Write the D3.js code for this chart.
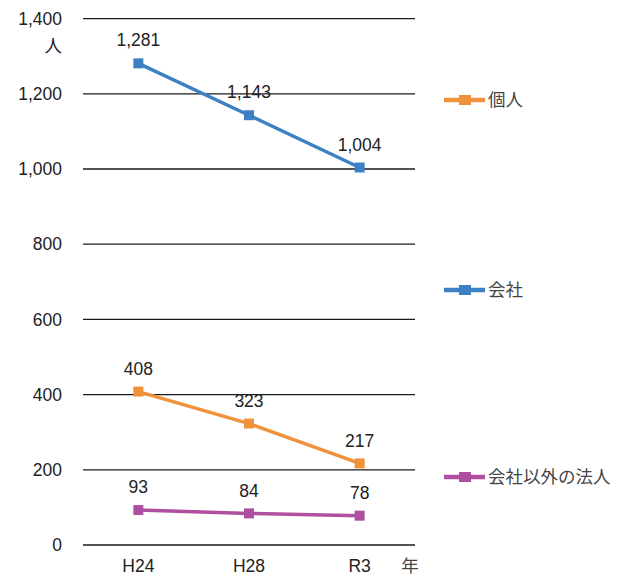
<!DOCTYPE html>
<html>
<head>
<meta charset="utf-8">
<script src="https://cdn.jsdelivr.net/npm/d3@7"></script>
<style>
  html, body { margin: 0; padding: 0; background: #fff; }
  svg { display: block; font-family: "Liberation Sans", Arial, "Noto Sans CJK JP", sans-serif; }
</style>
</head>
<body>
<svg id="chart" width="633" height="580"></svg>
<script>
// Number of persons by organisation type, per survey year
const years = ["H24", "H28", "R3"];
const seriesNames = ["個人", "会社", "会社以外の法人"];
const kojin = [408, 323, 217];
const kaisha = [1281, 1143, 1004];
const hojin = [93, 84, 78];
const yTicks = [0, 200, 400, 600, 800, 1000, 1200, 1400];
const colors = ["#F0923B", "#3E80C4", "#AE4FA0"];

const series = [
  { name: seriesNames[0], values: kojin, color: colors[0], legendY: 100 },
  { name: seriesNames[1], values: kaisha, color: colors[1], legendY: 290 },
  { name: seriesNames[2], values: hojin, color: colors[2], legendY: 477 }
];

const svg = d3.select("#chart");
const plotLeft = 83, plotRight = 415, plotTop = 18.6, plotBottom = 545;
const fontSize = 17.5;

const x = d3.scaleBand().domain(years).range([plotLeft, plotRight]);
const y = d3.scaleLinear().domain([0, 1400]).range([plotBottom, plotTop]);
const fmt = d3.format(",");

// Horizontal gridlines
svg.append("g").selectAll("line").data(yTicks).join("line")
  .attr("x1", plotLeft).attr("x2", plotRight)
  .attr("y1", d => y(d)).attr("y2", d => y(d))
  .attr("stroke", "#1a1a1a").attr("stroke-width", 1.3);

// Y axis tick labels
svg.append("g").selectAll("text").data(yTicks).join("text")
  .attr("x", 62).attr("y", d => y(d)).attr("dy", "0.35em")
  .attr("text-anchor", "end").attr("font-size", fontSize).attr("fill", "#222")
  .text(d => fmt(d));

// Unit labels
svg.append("text").attr("x", 62).attr("y", 46).attr("dy", "0.35em")
  .attr("text-anchor", "end").attr("font-size", fontSize).attr("fill", "#222").text("人");
svg.append("text").attr("x", 410).attr("y", 566).attr("dy", "0.35em")
  .attr("text-anchor", "middle").attr("font-size", fontSize).attr("fill", "#444").text("年");

// Category labels
svg.append("g").selectAll("text").data(years).join("text")
  .attr("x", d => x(d) + x.bandwidth() / 2).attr("y", 566).attr("dy", "0.35em")
  .attr("text-anchor", "middle").attr("font-size", fontSize).attr("fill", "#222")
  .text(d => d);

const cx = d => x(d) + x.bandwidth() / 2;
const line = d3.line().x((d, i) => cx(years[i])).y(d => y(d));

series.forEach(s => {
  const g = svg.append("g");
  g.append("path").datum(s.values)
    .attr("d", line).attr("fill", "none")
    .attr("stroke", s.color).attr("stroke-width", 3.5);
  g.selectAll("rect").data(s.values).join("rect")
    .attr("x", (d, i) => cx(years[i]) - 5).attr("y", d => y(d) - 5)
    .attr("width", 10).attr("height", 10).attr("fill", s.color);
  g.selectAll("text").data(s.values).join("text")
    .attr("x", (d, i) => cx(years[i])).attr("y", d => y(d) - 23).attr("dy", "0.35em")
    .attr("text-anchor", "middle").attr("font-size", fontSize).attr("fill", "#222")
    .text(d => fmt(d));

  // Legend entry
  const lg = svg.append("g");
  lg.append("line").attr("x1", 444).attr("x2", 485)
    .attr("y1", s.legendY).attr("y2", s.legendY)
    .attr("stroke", s.color).attr("stroke-width", 4.5);
  lg.append("rect").attr("x", 459).attr("y", s.legendY - 5)
    .attr("width", 12).attr("height", 10).attr("fill", s.color);
  lg.append("text").attr("x", 488).attr("y", s.legendY).attr("dy", "0.35em")
    .attr("font-size", fontSize).attr("fill", "#444").text(s.name);
});
</script>
</body>
</html>
